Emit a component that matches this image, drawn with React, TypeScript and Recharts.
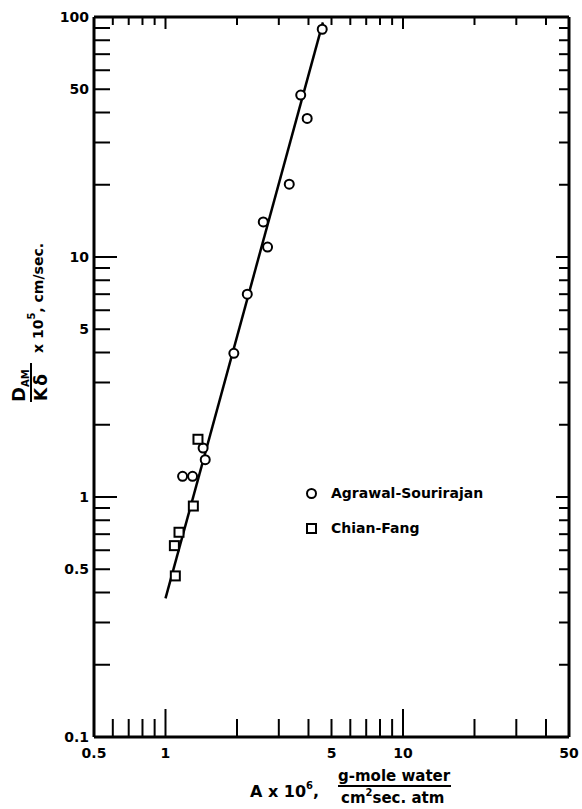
import React from 'react';
import { ScatterChart, Scatter, XAxis, YAxis, Legend } from 'recharts';

// Agrawal-Sourirajan (circles)
const circleX = [4.57, 3.71, 3.95, 3.32, 2.58, 2.69, 2.21, 1.94, 1.18, 1.30, 1.47, 1.44];
const circleY = [88.9, 47.3, 37.8, 20.1, 14.0, 11.0, 7.0, 3.97, 1.22, 1.22, 1.43, 1.60];
// Chian-Fang (squares)
const squareX = [1.37, 1.31, 1.14, 1.09, 1.10];
const squareY = [1.74, 0.917, 0.713, 0.627, 0.469];
// fitted line end points
const fitX = [1.0, 4.6];
const fitY = [0.378, 95];

const xTicks = [0.5, 0.6, 0.7, 0.8, 0.9, 1, 2, 3, 4, 5, 6, 7, 8, 9, 10, 20, 30, 40, 50];
const xLabels = [0.5, 1, 5, 10, 50];
const yTicks = [0.1, 0.2, 0.3, 0.4, 0.5, 0.6, 0.7, 0.8, 0.9, 1, 2, 3, 4, 5, 6, 7, 8, 9, 10, 20, 30, 40, 50, 60, 70, 80, 90, 100];
const yLabels = [0.1, 0.5, 1, 5, 10, 50, 100];
const majorTicks = [1, 10];

const seriesNames = ['Agrawal-Sourirajan', 'Chian-Fang'];

const circleData = circleX.map((x, i) => ({ x, y: circleY[i] }));
const squareData = squareX.map((x, i) => ({ x, y: squareY[i] }));
const fitData = fitX.map((x, i) => ({ x, y: fitY[i] }));

const FONT = "'DejaVu Sans', sans-serif";

const fmt = (v: number) => String(v);

const BottomTick = (props: any) => {
  const { x, y, payload } = props;
  const v = payload.value;
  const len = majorTicks.includes(v) ? 28 : 18;
  return (
    <g>
      <line x1={x} y1={y} x2={x} y2={y - len} stroke="#000" strokeWidth={2} />
      {xLabels.includes(v) && (
        <text x={x} y={y + 21} textAnchor="middle" fontFamily={FONT} fontWeight="bold" fontSize={14} fill="#000">
          {fmt(v)}
        </text>
      )}
    </g>
  );
};

const TopTick = (props: any) => {
  const { x, y, payload } = props;
  const v = payload.value;
  const len = majorTicks.includes(v) ? 12 : 8;
  return <line x1={x} y1={y} x2={x} y2={y + len} stroke="#000" strokeWidth={2} />;
};

const LeftTick = (props: any) => {
  const { x, y, payload } = props;
  const v = payload.value;
  const len = majorTicks.includes(v) ? 23 : 16;
  return (
    <g>
      <line x1={x} y1={y} x2={x + len} y2={y} stroke="#000" strokeWidth={2} />
      {yLabels.includes(v) && (
        <text x={x - 5} y={y + 5} textAnchor="end" fontFamily={FONT} fontWeight="bold" fontSize={14} fill="#000">
          {fmt(v)}
        </text>
      )}
    </g>
  );
};

const RightTick = (props: any) => {
  const { x, y, payload } = props;
  const v = payload.value;
  const len = majorTicks.includes(v) ? 13 : 10;
  return <line x1={x} y1={y} x2={x - len} y2={y} stroke="#000" strokeWidth={2} />;
};

const CircleShape = (props: any) => (
  <circle cx={props.cx} cy={props.cy} r={4.5} fill="#fff" stroke="#000" strokeWidth={2} />
);
const SquareShape = (props: any) => (
  <rect x={props.cx - 4.5} y={props.cy - 4.5} width={9} height={9} fill="#fff" stroke="#000" strokeWidth={2} />
);

const YLabel = () => (
  <g transform="translate(0,402) rotate(-90)" fontFamily={FONT} fontWeight="bold" fill="#000">
    <text x={0} y={25} fontSize={18}>
      D<tspan fontSize={10} dy={4}>AM</tspan>
    </text>
    <line x1={0} y1={31} x2={39} y2={31} stroke="#000" strokeWidth={2} />
    <text x={1} y={47} fontSize={17} letterSpacing={2}>Kδ</text>
    <text x={49} y={43} fontSize={14}>
      x 10<tspan fontSize={10} dy={-8}>5</tspan><tspan dy={8}>, cm/sec.</tspan>
    </text>
  </g>
);

const XLabel = () => (
  <g fontFamily={FONT} fontWeight="bold" fill="#000">
    <text x={250} y={797} fontSize={16}>
      A x 10<tspan fontSize={10} dy={-8}>6</tspan><tspan dy={8}>,</tspan>
    </text>
    <text x={338} y={781} fontSize={15}>g-mole water</text>
    <line x1={338} y1={786} x2={451} y2={786} stroke="#000" strokeWidth={2} />
    <text x={341} y={803} fontSize={15}>
      cm<tspan fontSize={10} dy={-7}>2</tspan><tspan dy={7}>sec. atm</tspan>
    </text>
  </g>
);

const LegendContent = () => (
  <div style={{ fontFamily: FONT, fontWeight: 'bold', fontSize: 14, color: '#000' }}>
    {seriesNames.map((name, i) => (
      <div key={name} style={{ display: 'flex', alignItems: 'center', height: 22, marginTop: i === 0 ? 0 : 13 }}>
        <svg width={13} height={13} style={{ display: 'block' }}>
          {i === 0 ? (
            <circle cx={6.5} cy={6.5} r={4.5} fill="#fff" stroke="#000" strokeWidth={2} />
          ) : (
            <rect x={2} y={2} width={9} height={9} fill="#fff" stroke="#000" strokeWidth={2} />
          )}
        </svg>
        <span style={{ marginLeft: 13, whiteSpace: 'nowrap' }}>{name}</span>
      </div>
    ))}
  </div>
);

export default function App() {
  return (
    <div style={{ position: 'absolute', left: 0, top: 0, background: '#fff' }}>
      <ScatterChart width={582} height={809} margin={{ top: 16, right: 12, bottom: 0, left: 0 }}>
        <XAxis
          xAxisId="b"
          dataKey="x"
          type="number"
          scale="log"
          domain={[0.5, 50]}
          allowDataOverflow
          ticks={xTicks}
          interval={0}
          height={72}
          tickSize={0}
          tickMargin={0}
          tickLine={false}
          axisLine={{ stroke: '#000', strokeWidth: 3 }}
          tick={<BottomTick />}
          label={<XLabel />}
        />
        <XAxis
          xAxisId="t"
          orientation="top"
          dataKey="x"
          type="number"
          scale="log"
          domain={[0.5, 50]}
          allowDataOverflow
          ticks={xTicks}
          interval={0}
          height={1}
          tickSize={0}
          tickMargin={0}
          tickLine={false}
          axisLine={{ stroke: '#000', strokeWidth: 3 }}
          tick={<TopTick />}
        />
        <YAxis
          yAxisId="l"
          dataKey="y"
          type="number"
          scale="log"
          domain={[0.1, 100]}
          allowDataOverflow
          ticks={yTicks}
          interval={0}
          width={94}
          tickSize={0}
          tickMargin={0}
          tickLine={false}
          axisLine={{ stroke: '#000', strokeWidth: 3 }}
          tick={<LeftTick />}
          label={<YLabel />}
        />
        <YAxis
          yAxisId="r"
          orientation="right"
          dataKey="y"
          type="number"
          scale="log"
          domain={[0.1, 100]}
          allowDataOverflow
          ticks={yTicks}
          interval={0}
          width={1}
          tickSize={0}
          tickMargin={0}
          tickLine={false}
          axisLine={{ stroke: '#000', strokeWidth: 3 }}
          tick={<RightTick />}
        />
        <Scatter
          name="fit"
          data={fitData}
          xAxisId="t"
          yAxisId="r"
          line={{ stroke: '#000', strokeWidth: 2.5 }}
          shape={() => <g />}
          isAnimationActive={false}
          legendType="none"
        />
        <Scatter
          name={seriesNames[0]}
          data={circleData}
          xAxisId="b"
          yAxisId="l"
          shape={<CircleShape />}
          isAnimationActive={false}
        />
        <Scatter
          name={seriesNames[1]}
          data={squareData}
          xAxisId="b"
          yAxisId="l"
          shape={<SquareShape />}
          isAnimationActive={false}
        />
        <Legend
          layout="horizontal"
          verticalAlign="middle"
          align="center"
          content={<LegendContent />}
          wrapperStyle={{ position: 'absolute', left: 305, top: 482, width: 240, height: 60 }}
        />
      </ScatterChart>
    </div>
  );
}
